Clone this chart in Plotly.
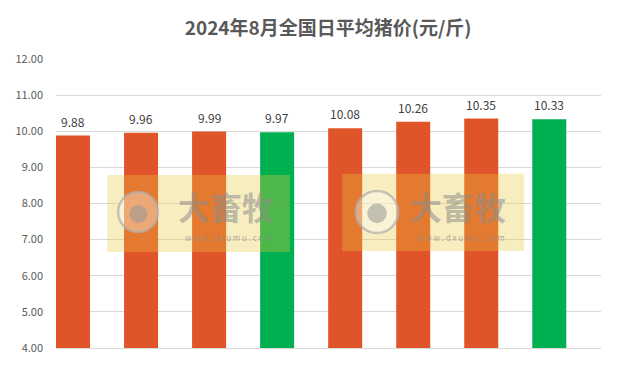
import plotly.graph_objects as go

categories = ["8月1日", "8月2日", "8月3日", "8月4日", "8月5日", "8月6日", "8月7日", "8月8日"]
prices = [9.88, 9.96, 9.99, 9.97, 10.08, 10.26, 10.35, 10.33]
colors = ["#E0542A", "#E0542A", "#E0542A", "#00B050", "#E0542A", "#E0542A", "#E0542A", "#00B050"]
y_ticks = [4, 5, 6, 7, 8, 9, 10, 11, 12]
y_tick_labels = ["%.2f" % v for v in y_ticks]

font_family = "Noto Sans CJK SC, Noto Sans, sans-serif"

fig = go.Figure()
fig.add_trace(go.Bar(
    x=categories, y=prices,
    marker=dict(color=colors, line=dict(width=0)),
    hoverinfo="skip",
))

annotations = []
for c, v in zip(categories, prices):
    annotations.append(dict(x=c, y=v, xref="x", yref="y", text="%.2f" % v, showarrow=False,
                            yanchor="bottom", yshift=4,
                            font=dict(size=12, color="#404040", family=font_family)))

shapes = []
# watermark blocks (decorative overlay)
wm = [
    dict(rect=(0.094, 0.429, 0.332, 0.599), circ=(0.114, 0.187, 0.401, 0.540), dot=(0.135, 0.168, 0.433, 0.495),
         tx=0.312),
    dict(rect=(0.525, 0.859, 0.336, 0.603), circ=(0.550, 0.628, 0.398, 0.543), dot=(0.571, 0.607, 0.432, 0.500),
         tx=0.738),
]
for w in wm:
    x0, x1, y0, y1 = w["rect"]
    shapes.append(dict(type="rect", xref="paper", yref="paper", x0=x0, x1=x1, y0=y0, y1=y1,
                       fillcolor="rgba(235,200,60,0.33)", line=dict(width=0), layer="above"))
    cx0, cx1, cy0, cy1 = w["circ"]
    shapes.append(dict(type="circle", xref="paper", yref="paper", x0=cx0, x1=cx1, y0=cy0, y1=cy1,
                       fillcolor="rgba(255,255,255,0.35)", line=dict(color="rgba(175,175,175,0.7)", width=2.5),
                       layer="above"))
    dx0, dx1, dy0, dy1 = w["dot"]
    shapes.append(dict(type="circle", xref="paper", yref="paper", x0=dx0, x1=dx1, y0=dy0, y1=dy1,
                       fillcolor="rgba(150,150,150,0.55)", line=dict(width=0), layer="above"))
    annotations.append(dict(xref="paper", yref="paper", x=w["tx"], y=0.49, xanchor="center", yanchor="middle",
                            text="<b>大畜牧</b>", showarrow=False,
                            font=dict(size=32, color="rgba(140,140,140,0.55)", family=font_family)))
    annotations.append(dict(xref="paper", yref="paper", x=w["tx"] + 0.006, y=0.382, xanchor="center",
                            yanchor="middle",
                            text="w w w . d x u m u . c o m", showarrow=False,
                            font=dict(size=8, color="rgba(140,140,140,0.7)", family=font_family)))

fig.update_layout(
    width=625, height=373,
    margin=dict(l=56, r=24, t=59, b=25),
    paper_bgcolor="white", plot_bgcolor="white",
    title=dict(text="<b>2024年8月全国日平均猪价(元/斤)</b>", x=0.525, xanchor="center",
               y=0.925, yanchor="middle",
               font=dict(size=19, color="#595959", family=font_family)),
    bargap=0.5,
    showlegend=False,
    xaxis=dict(showticklabels=False, showline=True, linecolor="#D9D9D9", linewidth=1,
               ticks="", showgrid=False, range=[-0.25, 7.76]),
    yaxis=dict(range=[4, 12], tickvals=y_ticks, ticktext=y_tick_labels,
               showgrid=True, gridcolor="#D9D9D9", gridwidth=1, zeroline=False,
               tickfont=dict(size=11, color="#595959", family=font_family),
               ticks="", ticklen=0, showline=False, ticklabelstandoff=12),
    shapes=shapes,
    annotations=annotations,
)

fig.write_html("out.html")
